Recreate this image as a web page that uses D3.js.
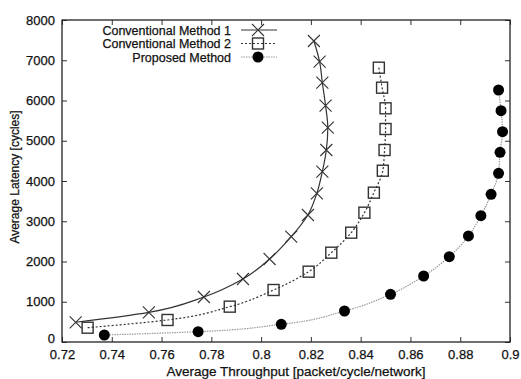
<!DOCTYPE html>
<html><head><meta charset="utf-8">
<script src="https://cdn.jsdelivr.net/npm/d3@7"></script>
<style>body{margin:0;background:#fff}svg{display:block}text{font-family:"Liberation Sans",Arial,sans-serif;fill:#111;stroke:#111;stroke-width:0.25px}</style>
</head><body><svg id="c" width="521" height="379"></svg>
<script>
const xTicks=[0.72,0.74,0.76,0.78,0.8,0.82,0.84,0.86,0.88,0.9];
const xTickLabels=["0.72","0.74","0.76","0.78","0.8","0.82","0.84","0.86","0.88","0.9"];
const yTicks=[0,1000,2000,3000,4000,5000,6000,7000,8000];
const seriesNames=["Conventional Method 1","Conventional Method 2","Proposed Method"];
const m1X=[0.7255,0.7549,0.777,0.7927,0.8034,0.8121,0.8188,0.8224,0.8246,0.8262,0.8268,0.8259,0.8246,0.8235,0.8212];
const m1Y=[490,737,1118,1565,2062,2617,3155,3694,4232,4770,5325,5871,6442,6964,7478];
const m2X=[0.7303,0.7624,0.7874,0.8050,0.8191,0.8282,0.8362,0.8415,0.8453,0.8489,0.8496,0.8500,0.8500,0.8486,0.8473];
const m2Y=[355,547,878,1292,1747,2219,2716,3213,3710,4256,4770,5292,5806,6318,6815];
const pX=[0.737,0.7747,0.8081,0.8335,0.852,0.8653,0.8756,0.8833,0.8883,0.8924,0.8954,0.8960,0.8970,0.8964,0.8954];
const pY=[174,256,440,770,1185,1640,2120,2634,3138,3670,4191,4713,5225,5747,6261];

const svg=d3.select("#c");
const L=62,R=510,T=20,B=342;
const x=d3.scaleLinear().domain([0.72,0.9]).range([L,R]);
const y=d3.scaleLinear().domain([0,8000]).range([B,T]);

const fmt=(d)=>xTickLabels[xTicks.indexOf(d)];
svg.append("g").attr("transform",`translate(0,${B})`)
 .call(d3.axisBottom(x).tickValues(xTicks).tickFormat(fmt).tickSizeInner(-5).tickSizeOuter(0).tickPadding(8))
 .call(g=>{g.select(".domain").remove();g.selectAll("text").attr("font-size",13).attr("fill","#111");g.selectAll("line").attr("stroke","#333");});
svg.append("g").attr("transform",`translate(0,${T})`)
 .call(d3.axisTop(x).tickValues(xTicks).tickFormat("").tickSizeInner(-5).tickSizeOuter(0))
 .call(g=>{g.select(".domain").remove();g.selectAll("line").attr("stroke","#333");});
svg.append("g").attr("transform",`translate(${L},0)`)
 .call(d3.axisLeft(y).tickValues(yTicks).tickFormat(d3.format("d")).tickSizeInner(-5).tickSizeOuter(0).tickPadding(7))
 .call(g=>{g.select(".domain").remove();g.selectAll("text").attr("font-size",13).attr("fill","#111");g.selectAll("line").attr("stroke","#333");
   g.selectAll(".tick").filter(d=>d===0).select("text").attr("dy","0.05em");});
svg.append("g").attr("transform",`translate(${R},0)`)
 .call(d3.axisRight(y).tickValues(yTicks).tickFormat("").tickSizeInner(-5).tickSizeOuter(0))
 .call(g=>{g.select(".domain").remove();g.selectAll("line").attr("stroke","#333");});
svg.append("rect").attr("x",L).attr("y",T).attr("width",R-L).attr("height",B-T).attr("fill","none").attr("stroke","#222").attr("stroke-width",1.3);

svg.append("text").attr("x",296).attr("y",376).attr("text-anchor","middle").attr("font-size",13.5).text("Average Throughput [packet/cycle/network]");
svg.append("text").attr("transform","translate(19,177) rotate(-90)").attr("text-anchor","middle").attr("font-size",12).text("Average Latency [cycles]");

const line=d3.line().x(d=>x(d[0])).y(d=>y(d[1])).curve(d3.curveMonotoneY);
const s1=m1X.map((v,i)=>[v,m1Y[i]]), s2=m2X.map((v,i)=>[v,m2Y[i]]), s3=pX.map((v,i)=>[v,pY[i]]);
svg.append("path").datum(s1).attr("d",line).attr("fill","none").attr("stroke","#333").attr("stroke-width",1.2);
svg.append("path").datum(s2).attr("d",line).attr("fill","none").attr("stroke","#333").attr("stroke-width",1.2).attr("stroke-dasharray","2,2");
svg.append("path").datum(s3).attr("d",line).attr("fill","none").attr("stroke","#999").attr("stroke-width",1.2).attr("stroke-dasharray","1.5,1");

function cross(g,cx,cy){g.append("path").attr("d",`M${cx-6},${cy-6}L${cx+6},${cy+6}M${cx-6},${cy+6}L${cx+6},${cy-6}`).attr("stroke","#333").attr("stroke-width",1.1).attr("fill","none");}
function square(g,cx,cy){g.append("rect").attr("x",cx-5.5).attr("y",cy-5.5).attr("width",11).attr("height",11).attr("fill","none").attr("stroke","#333").attr("stroke-width",1.4);}
function dot(g,cx,cy){g.append("circle").attr("cx",cx).attr("cy",cy).attr("r",5.5).attr("fill","#000");}
const gm=svg.append("g");
s1.forEach(d=>cross(gm,x(d[0]),y(d[1])));
s2.forEach(d=>square(gm,x(d[0]),y(d[1])));
s3.forEach(d=>dot(gm,x(d[0]),y(d[1])));

const rows=[30,43.5,57];
const styles=[{s:"#333",da:null,m:cross},{s:"#333",da:"2,2",m:square},{s:"#999",da:"1.5,1",m:dot}];
seriesNames.forEach((n,i)=>{
  svg.append("text").attr("x",231).attr("y",rows[i]+4.5).attr("text-anchor","end").attr("font-size",12.5).text(n);
  svg.append("line").attr("x1",241).attr("x2",277).attr("y1",rows[i]).attr("y2",rows[i]).attr("stroke",styles[i].s).attr("stroke-width",1.2).attr("stroke-dasharray",styles[i].da);
  styles[i].m(svg,258,rows[i]);
});
</script></body></html>
